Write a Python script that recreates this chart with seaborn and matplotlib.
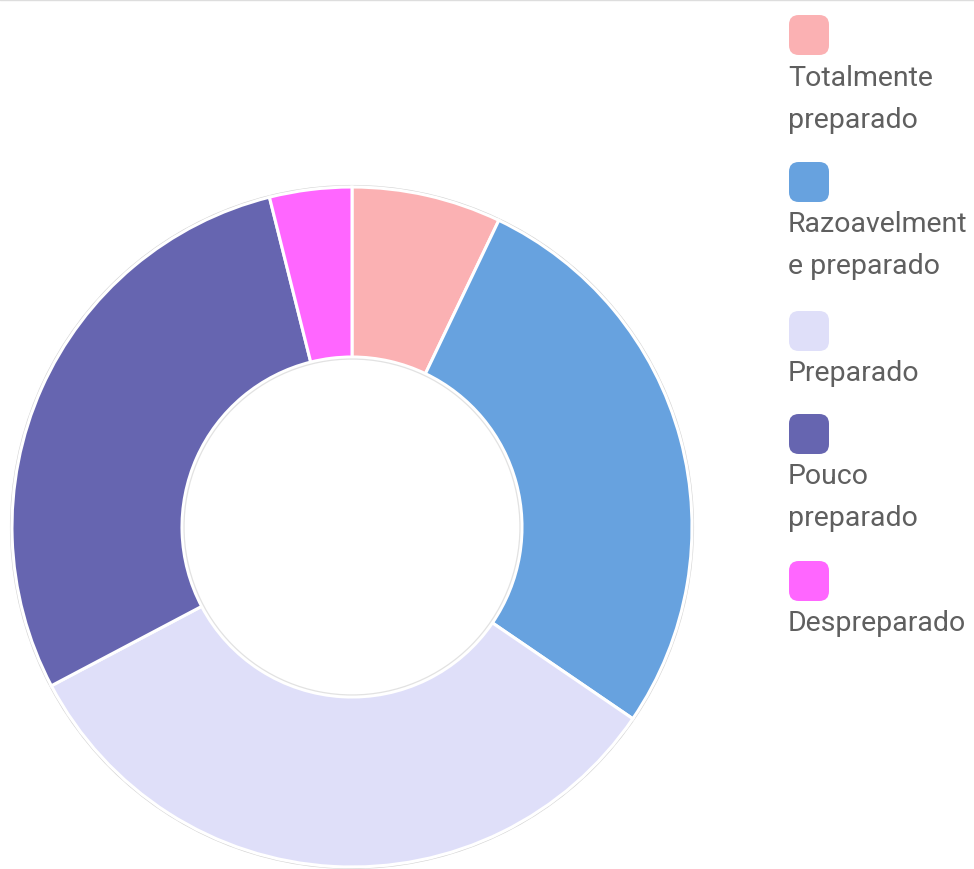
import matplotlib
matplotlib.use("Agg")
import matplotlib.pyplot as plt
from matplotlib.patches import FancyBboxPatch, Circle
import seaborn as sns

categories = ["Totalmente preparado", "Razoavelmente preparado", "Preparado",
              "Pouco preparado", "Despreparado"]
legend_lines = [["Totalmente", "preparado"], ["Razoavelment", "e preparado"],
                ["Preparado"], ["Pouco", "preparado"], ["Despreparado"]]
values = [7.1, 27.4, 32.7, 28.8, 3.9]
colors = ["#FBB1B3", "#67A2DF", "#DFDFF9", "#6665B0", "#FF66FF"]

sns.set_theme(style="white")
plt.rcParams['font.family'] = ['Roboto', 'DejaVu Sans']

W, H = 974, 870
fig = plt.figure(figsize=(W / 100, H / 100), dpi=100)

cx, cy, R = 352, 528, 340
pad = 6
half = R + pad
ax = fig.add_axes([(cx - half) / W, (H - cy - half) / H, 2 * half / W, 2 * half / H])
lim = half / R

# faint shadow rings
ax.add_patch(Circle((0, 0), 1.004, facecolor="none", edgecolor="#d4d4d4", lw=1.0, zorder=0))
ax.add_patch(Circle((0, 0), 0.494, facecolor="none", edgecolor="#e2e2e2", lw=0.9, zorder=3))

ax.pie(values, colors=colors, startangle=90, counterclock=False, radius=1,
       wedgeprops=dict(width=0.5, edgecolor="white", linewidth=2.2))
ax.set_xlim(-lim, lim)
ax.set_ylim(-lim, lim)
ax.set_aspect("equal")
ax.axis("off")

# legend
sq_x, sq_size = 789, 40
sq_tops = [16, 163, 312, 415, 562]
line_h = 42
for lines, col, top in zip(legend_lines, colors, sq_tops):
    box = FancyBboxPatch(((sq_x) / W, (H - top - sq_size) / H), sq_size / W, sq_size / H,
                         boxstyle="round,pad=0,rounding_size=0.010",
                         transform=fig.transFigure, facecolor=col, edgecolor="none",
                         mutation_aspect=W / H)
    fig.patches.append(box)
    for i, ln in enumerate(lines):
        yc = top + sq_size + 22 + i * line_h
        fig.text((sq_x - 1) / W, (H - yc) / H, ln, fontsize=20.5, color="#5f5f5f",
                 ha="left", va="center")

# top border line
fig.add_artist(plt.Line2D([0, 1], [1 - 0.6 / H, 1 - 0.6 / H], transform=fig.transFigure,
                          color="#dddddd", lw=1))

fig.savefig("out.png", dpi=100)
